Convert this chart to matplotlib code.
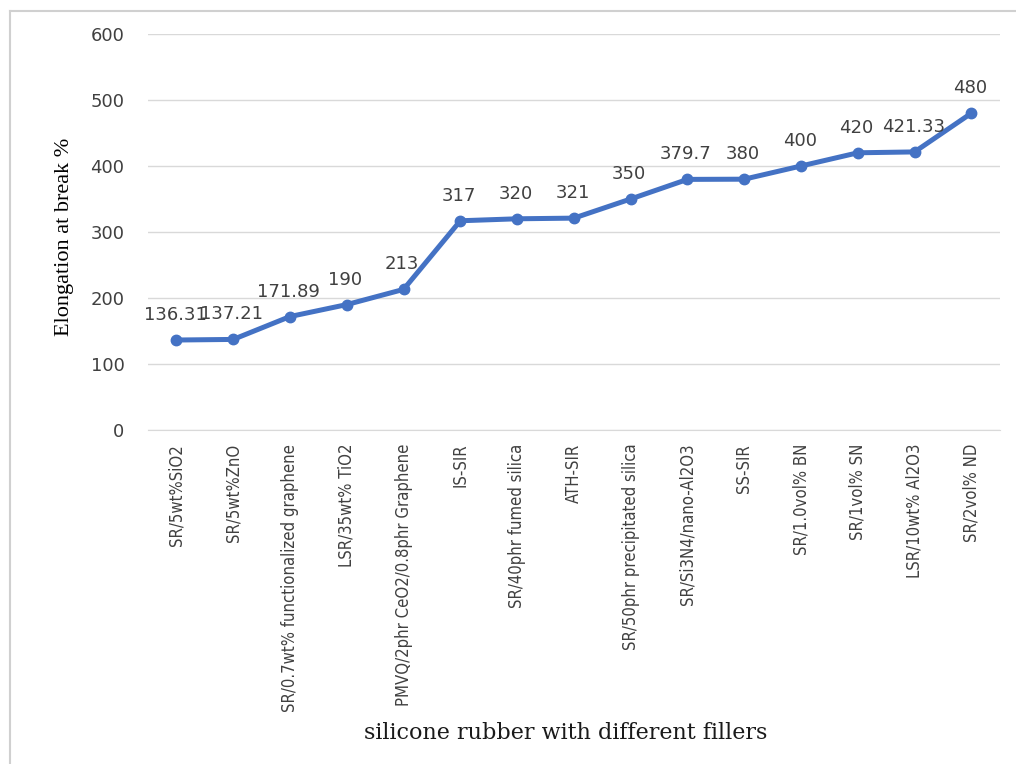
import matplotlib.pyplot as plt
from matplotlib.lines import Line2D

fillers = ["SR/5wt%SiO2",
           "SR/5wt%ZnO",
           "SR/0.7wt% functionalized graphene",
           "LSR/35wt% TiO2",
           "PMVQ/2phr CeO2/0.8phr Graphene",
           "IS-SIR",
           "SR/40phr fumed silica",
           "ATH-SIR",
           "SR/50phr precipitated silica",
           "SR/Si3N4/nano-Al2O3",
           "SS-SIR",
           "SR/1.0vol% BN",
           "SR/1vol% SN",
           "LSR/10wt% Al2O3",
           "SR/2vol% ND"]

elongation = [136.31, 137.21, 171.89, 190, 213, 317, 320, 321, 350,
              379.7, 380, 400, 420, 421.33, 480]

value_labels = ["136.31", "137.21", "171.89", "190", "213", "317", "320", "321",
                "350", "379.7", "380", "400", "420", "421.33", "480"]

y_ticks = [0, 100, 200, 300, 400, 500, 600]

blue = '#4472c4'
text_grey = '#404040'

fig = plt.figure(figsize=(10.16, 7.64), dpi=100)
ax = fig.add_axes([0.1457, 0.4372, 0.8383, 0.5183])

x = list(range(len(fillers)))
ax.plot(x, elongation, color=blue, linewidth=3.6, marker='o', markersize=7.5,
        solid_capstyle='round', zorder=3)

for xi, yi, lab in zip(x, elongation, value_labels):
    ax.annotate(lab, (xi, yi), xytext=(-1, 18), textcoords='offset points',
                ha='center', va='center', fontsize=13, color=text_grey,
                family='DejaVu Sans')

ax.set_xlim(-0.5, len(fillers) - 0.5)
ax.set_ylim(0, 600)
ax.set_yticks(y_ticks)
ax.set_yticklabels([str(t) for t in y_ticks], fontsize=13, color=text_grey,
                   family='DejaVu Sans')
ax.grid(axis='y', color='#d9d9d9', linewidth=1)
ax.set_axisbelow(True)

ax.set_xticks(x)
ax.set_xticklabels(fillers, rotation=90, fontsize=12, color=text_grey,
                   family='DejaVu Sans', fontstretch='condensed',
                   va='top', ha='center')
ax.tick_params(axis='both', length=0)
ax.tick_params(axis='y', pad=17)
ax.tick_params(axis='x', pad=10)

for side in ['top', 'right', 'left']:
    ax.spines[side].set_visible(False)
ax.spines['bottom'].set_color('#d9d9d9')

fig.text(0.063, 0.69, 'Elongation at break %', rotation=90, ha='center', va='center',
         fontsize=16, family='Liberation Serif', color='black')
fig.text(0.557, 0.041, 'silicone rubber with different fillers', ha='center',
         va='center', fontsize=16, family='DejaVu Serif', color='#1a1a1a')

# light frame along the top and left edge
fig.add_artist(Line2D([10 / 1016, 1], [1 - 11 / 764, 1 - 11 / 764],
                      color='#d0d0d0', linewidth=1.5, transform=fig.transFigure))
fig.add_artist(Line2D([10 / 1016, 10 / 1016], [0, 1 - 11 / 764],
                      color='#d0d0d0', linewidth=1.5, transform=fig.transFigure))

fig.savefig('out.png', dpi=100)
